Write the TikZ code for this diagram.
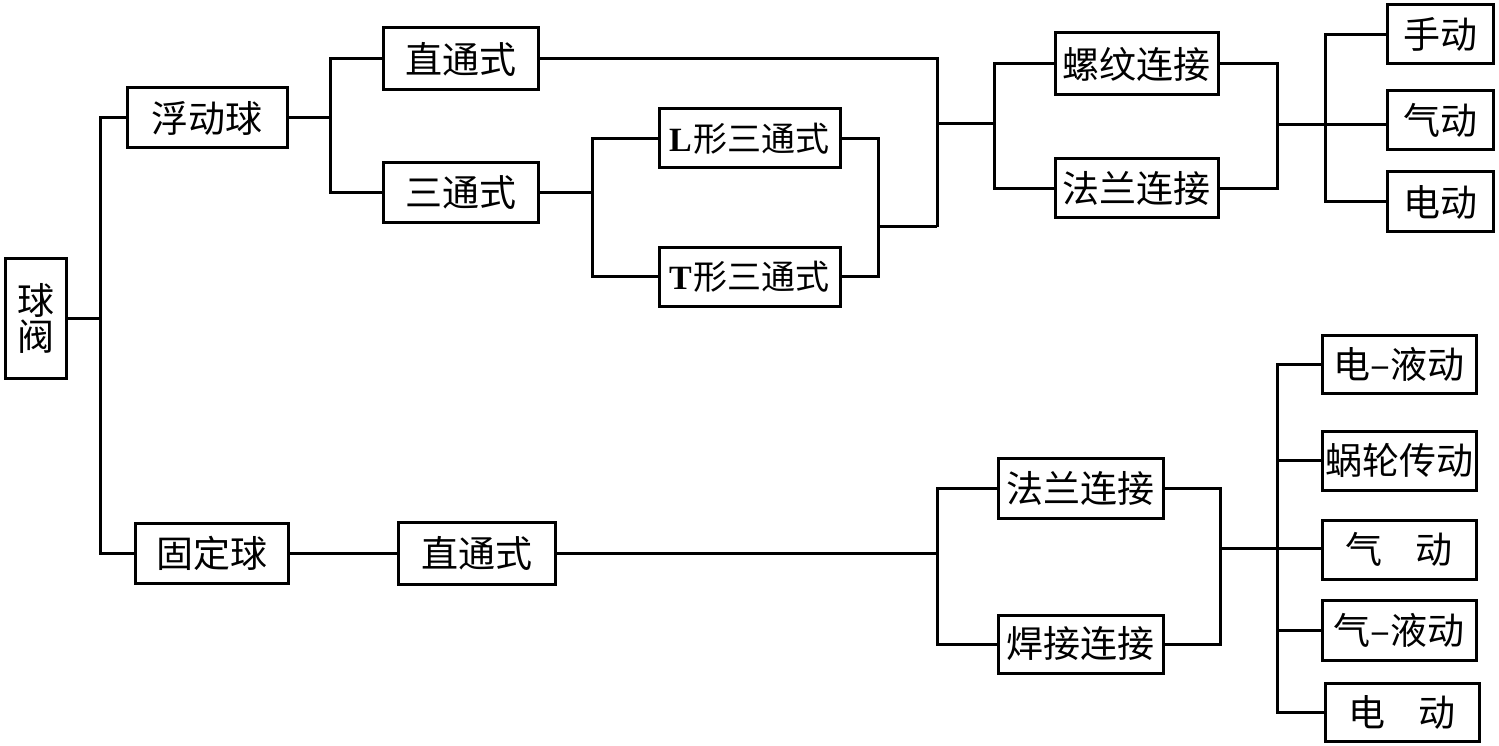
\documentclass[tikz,border=0pt]{standalone}
\usepackage{fontspec}
\setmainfont{Liberation Serif}
\newfontfamily\cjk{Noto Sans CJK SC}
\begin{document}
\begin{tikzpicture}[x=1pt,y=-1pt,
  box/.style={draw,line width=3pt,inner sep=0pt,minimum height=60pt,font=\cjk\fontsize{37}{42}\selectfont,align=center},
  conn/.style={line width=3pt}]
\useasboundingbox (0,0) rectangle (1499,746);
% nodes
\node[box,minimum width=61pt,minimum height=120pt] (qf) at (35.5,318) {球\\[-6pt]阀};
\node[box,minimum width=160pt] (fd) at (207,118) {浮动球};
\node[box,minimum width=153pt] (gd) at (211.5,553.5) {固定球};
\node[box,minimum width=155pt,minimum height=62pt] (zt1) at (460.5,59) {直通式};
\node[box,minimum width=155pt] (st) at (460.5,193) {三通式};
\node[box,minimum width=157pt,minimum height=62pt] (zt2) at (476.5,553.5) {直通式};
\node[box,minimum width=181pt,minimum height=59pt,font=\cjk\fontsize{34}{40}\selectfont] (L) at (749.5,138.5) {{\rmfamily\bfseries L}\kern2pt形三通式};
\node[box,minimum width=181pt,minimum height=59pt,font=\cjk\fontsize{34}{40}\selectfont] (T) at (749.5,276.5) {{\rmfamily\bfseries T}\kern2pt形三通式};
\node[box,minimum width=163pt,minimum height=62pt] (lw) at (1136.5,64) {螺纹连接};
\node[box,minimum width=163pt,minimum height=59pt] (fl1) at (1136.5,188.5) {法兰连接};
\node[box,minimum width=106pt,minimum height=59pt] (sd) at (1440,34.5) {手动};
\node[box,minimum width=106pt,minimum height=59pt] (qd) at (1440,120) {气动};
\node[box,minimum width=106pt] (dd) at (1440,202) {电动};
\node[box,minimum width=165pt] (fl2) at (1080.5,488) {法兰连接};
\node[box,minimum width=165pt,minimum height=58pt] (hj) at (1080.5,644) {焊接连接};
\node[box,minimum width=154pt,minimum height=58pt] (dyd) at (1399,364) {电–液动};
\node[box,minimum width=154pt,minimum height=59pt] (wl) at (1399,460.5) {蜗轮传动};
\node[box,minimum width=154pt,minimum height=59pt] (qd2) at (1399,549.5) {气\hspace{0.9em}动};
\node[box,minimum width=154pt] (qyd) at (1399,630) {气–液动};
\node[box,minimum width=154pt,minimum height=58pt] (dd2) at (1402,712) {电\hspace{0.9em}动};
% junctions
\coordinate (j0) at (100,318);
\coordinate (j1) at (330,118);
\coordinate (j2) at (592,193);
\coordinate (j3) at (878,227);
\coordinate (j4) at (937,227);
\coordinate (j4b) at (937,124);
\coordinate (j5) at (994,124);
\coordinate (j6) at (1277,125);
\coordinate (j7) at (1325,125);
\coordinate (j8) at (937,553.5);
\coordinate (j9) at (1220,548);
\coordinate (j10) at (1277,548);
% connectors
\draw[conn] (qf.east) -- (j0);
\draw[conn] (fd.west) -| (j0) |- (gd.west);
\draw[conn] (fd.east) -- (j1);
\draw[conn] (zt1.west) -| (j1) |- (st.west);
\draw[conn] (st.east) -- (j2);
\draw[conn] (L.west) -| (j2) |- (T.west);
\draw[conn] (L.east) -| (j3) |- (T.east);
\draw[conn] (j3) -- (j4);
\draw[conn] (zt1.east) -| (j4);
\draw[conn] (j4b) -- (j5);
\draw[conn] (lw.west) -| (j5) |- (fl1.west);
\draw[conn] (lw.east) -| (j6) |- (fl1.east);
\draw[conn] (j6) -- (qd.west |- j6);
\draw[conn] (sd.west) -| (j7) |- (dd.west);
\draw[conn] (gd.east) -- (zt2.west);
\draw[conn] (zt2.east) -- (j8);
\draw[conn] (fl2.west) -| (j8) |- (hj.west);
\draw[conn] (fl2.east) -| (j9) |- (hj.east);
\draw[conn] (j9) -- (qd2.west |- j9);
\draw[conn] (dyd.west) -| (j10) |- (dd2.west);
\draw[conn] (j10 |- wl.west) -- (wl.west);
\draw[conn] (j10 |- qyd.west) -- (qyd.west);
\end{tikzpicture}
\end{document}
